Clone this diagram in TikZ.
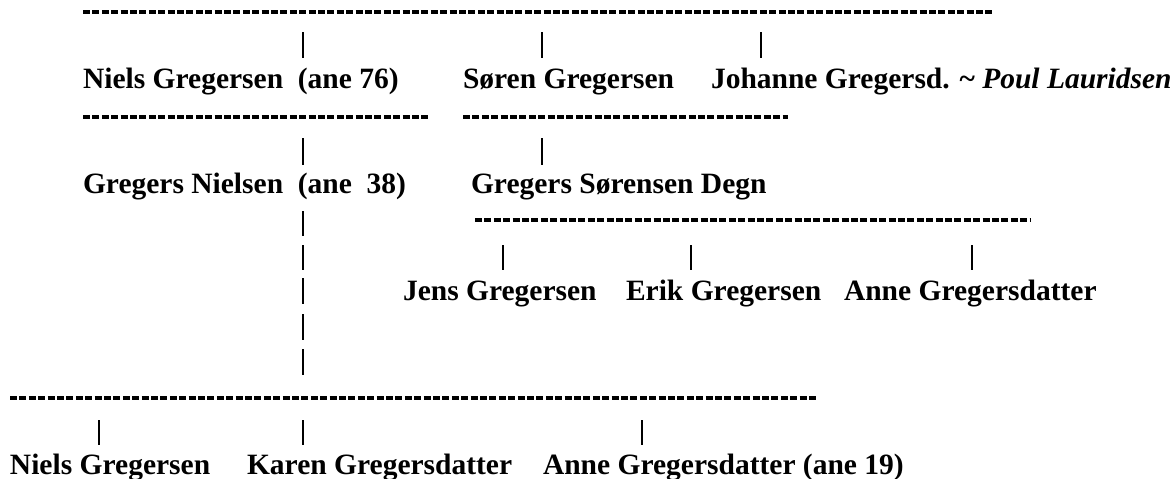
\documentclass[tikz,border=0pt]{standalone}
\usepackage{fontspec}
\setmainfont{Liberation Serif}
\begin{document}
\begin{tikzpicture}[x=0.5pt,y=-0.5pt,
  person/.style={anchor=base west, inner sep=0pt, outer sep=0pt, font=\fontsize{14.75}{16}\selectfont\bfseries},
  rule/.style={line width=1.8pt, dash pattern=on 3.5pt off 1.2pt},
  bar/.style={line width=1.1pt}]
\useasboundingbox (0,0) rectangle (1172,478);

% names
\node[person] (niels1)   at (83,88)  {Niels Gregersen\ \ (ane 76)};
\node[person] (soren)    at (463,88) {Søren Gregersen};
\node[person] (johanne)  at (711,88) {Johanne Gregersd. \textasciitilde\ \textit{Poul Lauridsen}};
\node[person] (gregersN) at (83,193) {Gregers Nielsen\ \ (ane\ \ 38)};
\node[person] (gregersS) at (471,193) {Gregers Sørensen Degn};
\node[person] (jens)     at (403,300) {Jens Gregersen};
\node[person] (erik)     at (626,300) {Erik Gregersen};
\node[person] (anneA)    at (844,300) {Anne Gregersdatter};
\node[person] (niels2)   at (10,474) {Niels Gregersen};
\node[person] (karen)    at (247,474) {Karen Gregersdatter};
\node[person] (anneB)    at (543,474) {Anne Gregersdatter (ane 19)};

% dashed family rules
\coordinate (r1a) at (83,12);   \coordinate (r1b) at (992,12);
\coordinate (r2a) at (83,117);  \coordinate (r2b) at (428,117);
\coordinate (r3a) at (463,117); \coordinate (r3b) at (788,117);
\coordinate (r4a) at (475,220); \coordinate (r4b) at (1030,220);
\coordinate (r5a) at (10,398);  \coordinate (r5b) at (817,398);
\draw[rule] (r1a) -- (r1b);
\draw[rule] (r2a) -- (r2b);
\draw[rule] (r3a) -- (r3b);
\draw[rule] (r4a) -- (r4b);
\draw[rule] (r5a) -- (r5b);

% vertical bars
\foreach \x/\a/\b in {303/32/58, 542/32/58, 761/32/58,
                      303/138/165, 542/138/165,
                      303/211/236, 303/245/270, 303/278/304, 303/314/340, 303/349/375,
                      503/245/270, 691/245/270, 972/245/270,
                      99/420/445, 303/420/445, 642/420/445}{
  \coordinate (bt) at (\x,\a);
  \coordinate (bb) at (\x,\b);
  \draw[bar] (bt) -- (bb);
}
\end{tikzpicture}
\end{document}
